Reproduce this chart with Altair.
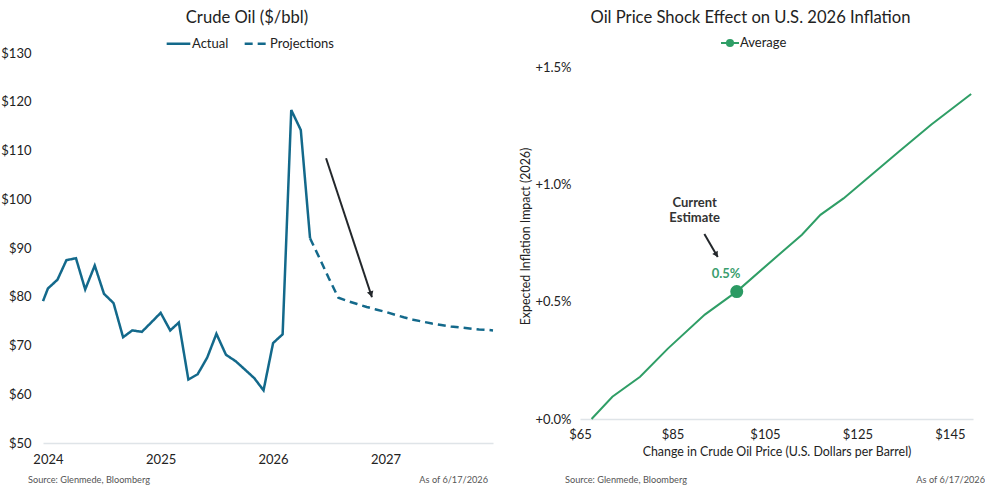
import altair as alt
import pandas as pd

# ---------------- Left panel data: crude oil ($/bbl) ----------------
actual_dates = [
    "2023-12-16", "2024-01-01", "2024-02-01", "2024-03-01", "2024-04-01", "2024-05-01",
    "2024-06-01", "2024-07-01", "2024-08-01", "2024-09-01", "2024-10-01", "2024-11-01",
    "2024-12-01", "2025-01-01", "2025-02-01", "2025-03-01", "2025-04-01", "2025-05-01",
    "2025-06-01", "2025-07-01", "2025-08-01", "2025-09-01", "2025-10-01", "2025-11-01",
    "2025-12-01", "2026-01-01", "2026-02-01", "2026-03-01", "2026-04-01", "2026-05-01",
]
actual_values = [
    79.1, 81.7, 83.5, 87.5, 87.9, 81.5,
    86.4, 80.6, 78.7, 71.7, 73.1, 72.8,
    74.7, 76.7, 73.1, 74.7, 63.0, 64.1,
    67.5, 72.4, 68.1, 66.8, 65.1, 63.3,
    60.8, 70.5, 72.3, 118.3, 114.2, 92.0,
]
proj_dates = [
    "2026-05-01", "2026-06-01", "2026-07-01", "2026-08-01", "2026-09-01", "2026-10-01",
    "2026-11-01", "2026-12-01", "2027-01-01", "2027-02-01", "2027-03-01", "2027-04-01",
    "2027-05-01", "2027-06-01", "2027-07-01", "2027-08-01", "2027-09-01", "2027-10-01",
    "2027-11-01", "2027-12-01", "2027-12-16",
]
proj_values = [
    92.0, 87.9, 83.8, 79.8, 79.1, 78.5,
    77.9, 77.4, 76.9, 76.3, 75.8, 75.3,
    74.9, 74.5, 74.2, 73.9, 73.7, 73.5,
    73.3, 73.2, 73.1,
]
series_names = ["Actual", "Projections"]
year_ticks = [2024, 2025, 2026, 2027]
price_ticks = [50, 60, 70, 80, 90, 100, 110, 120, 130]
left_arrow = {"start_date": "2026-06-22", "start_price": 108.4,
              "end_date": "2026-11-18", "end_price": 79.9,
              "head_date": "2026-11-15", "head_price": 80.5}

# ---------------- Right panel data: inflation impact ----------------
oil_prices = [67.5, 72.0, 78.0, 84.0, 92.0, 99.0, 108.0, 113.0, 117.0, 122.0, 134.0, 141.0, 149.6]
inflation_impact = [0.0, 0.095, 0.18, 0.30, 0.445, 0.545, 0.70, 0.785, 0.87, 0.94, 1.14, 1.255, 1.385]
current_price = [98.9]
current_impact = [0.543]
current_label = ["0.5%"]
note_lines = ["Current", "Estimate"]
price_axis_ticks = [65, 85, 105, 125, 145]
impact_ticks = [0.0, 0.5, 1.0, 1.5]

source_text = ["Source: Glenmede, Bloomberg"]
asof_text = ["As of 6/17/2026"]

BLUE = "#13698b"
GREEN = "#2f9e66"
DOT = "#2b9a63"
DARK = "#23272b"
TXT = "#222222"
GRID = "#dfe4e8"
FOOT = "#555555"

# ---------------- Left panel ----------------
left_df = pd.DataFrame({
    "date": pd.to_datetime(actual_dates + proj_dates),
    "price": actual_values + proj_values,
    "series": ["Actual"] * len(actual_dates) + ["Projections"] * len(proj_dates),
})

x_left = alt.X(
    "date:T",
    scale=alt.Scale(domain=[alt.DateTime(year=2023, month=12, date=16),
                            alt.DateTime(year=2027, month=12, date=16)]),
    axis=alt.Axis(values=[alt.DateTime(year=y, month=1, date=1) for y in year_ticks],
                  format="%Y", title=None, labelFontSize=13, labelColor=TXT,
                  labelPadding=10, labelFlush=False, ticks=False, grid=False,
                  domainColor=GRID, domainWidth=1.5),
)
y_left = alt.Y(
    "price:Q",
    scale=alt.Scale(domain=[50, 130], nice=False, zero=False),
    axis=alt.Axis(values=price_ticks, labelExpr="'$' + datum.value", title=None,
                  labelFontSize=13, labelColor=TXT, labelPadding=12, labelFlush=False,
                  ticks=False, grid=False, domain=False),
)

leg_left = alt.Legend(orient="none", legendX=122, legendY=-23, direction="horizontal",
                      title=None, symbolType="stroke", symbolSize=560,
                      symbolStrokeWidth=2.5, labelFontSize=13, labelColor=TXT,
                      labelOffset=0, columnPadding=10)

lines_left = alt.Chart(left_df).mark_line(strokeWidth=2.5).encode(
    x=x_left,
    y=y_left,
    color=alt.Color("series:N", scale=alt.Scale(domain=series_names, range=[BLUE, BLUE]),
                    legend=leg_left),
    strokeDash=alt.StrokeDash("series:N",
                              scale=alt.Scale(domain=series_names, range=[[1, 0], [8, 5]]),
                              legend=leg_left),
)

arrow_df = pd.DataFrame({
    "date": pd.to_datetime([left_arrow["start_date"]]),
    "price": [left_arrow["start_price"]],
    "date2": pd.to_datetime([left_arrow["end_date"]]),
    "price2": [left_arrow["end_price"]],
})
arrow_line = alt.Chart(arrow_df).mark_rule(strokeWidth=2, color=DARK).encode(
    x="date:T", y="price:Q", x2=alt.X2("date2"), y2=alt.Y2("price2"))
head_df = pd.DataFrame({"date": pd.to_datetime([left_arrow["head_date"]]),
                        "price": [left_arrow["head_price"]]})
arrow_head = alt.Chart(head_df).mark_point(shape="triangle-up", filled=True, size=45,
                                           angle=161.8, color=DARK, opacity=1).encode(
    x="date:T", y="price:Q")

src_left = alt.Chart(pd.DataFrame({"t": source_text})).mark_text(
    align="left", baseline="middle", fontSize=9.2, color=FOOT).encode(
    x=alt.value(-15), y=alt.value(427), text="t:N")
asof_left = alt.Chart(pd.DataFrame({"t": asof_text})).mark_text(
    align="right", baseline="middle", fontSize=9.2, color=FOOT).encode(
    x=alt.value(445), y=alt.value(427), text="t:N")

left = alt.layer(lines_left, arrow_line, arrow_head, src_left, asof_left).properties(
    width=450, height=390,
    title=alt.TitleParams("Crude Oil ($/bbl)", fontSize=16.6, fontWeight="normal",
                          color=TXT, anchor="middle", frame="group", dx=-21, offset=3),
)

# ---------------- Right panel ----------------
right_df = pd.DataFrame({"price": oil_prices, "impact": inflation_impact,
                         "series": ["Average"] * len(oil_prices)})

x_right = alt.X(
    "price:Q",
    scale=alt.Scale(domain=[65, 150], nice=False, zero=False),
    axis=alt.Axis(values=price_axis_ticks, labelExpr="'$' + datum.value",
                  title="Change in Crude Oil Price (U.S. Dollars per Barrel)",
                  titleFontSize=12.4, titleFontWeight="normal", titleColor=TXT,
                  labelFontSize=13, labelColor=TXT, labelPadding=9, titlePadding=4,
                  labelFlush=False, ticks=False, grid=False,
                  domainColor=GRID, domainWidth=1.5),
)
# y range runs a little above +1.5% so the panel's plot top lines up with the left panel
y_right = alt.Y(
    "impact:Q",
    scale=alt.Scale(domain=[0, 1.5597], nice=False, zero=False),
    axis=alt.Axis(values=impact_ticks,
                  labelExpr="'+' + format(datum.value, '.1f') + '%'",
                  title="Expected Inflation Impact (2026)",
                  titleFontSize=12.4, titleFontWeight="normal", titleColor=TXT,
                  labelFontSize=13, labelColor=TXT, labelPadding=9, titlePadding=2,
                  labelFlush=False, ticks=False, grid=False, domain=False),
)

avg_symbol = ("M-1,0L1,0M0.34,0A0.34,0.34,0,1,1,-0.34,0A0.34,0.34,0,1,1,0.34,0Z")
leg_right = alt.Legend(orient="none", legendX=140, legendY=-20, direction="horizontal",
                       title=None, symbolType=avg_symbol, symbolSize=324,
                       symbolStrokeWidth=2, symbolFillColor=GREEN,
                       labelFontSize=13, labelColor=TXT, labelOffset=0)

line_right = alt.Chart(right_df).mark_line(strokeWidth=2).encode(
    x=x_right, y=y_right,
    color=alt.Color("series:N", scale=alt.Scale(domain=["Average"], range=[GREEN]),
                    legend=leg_right),
)

cur_df = pd.DataFrame({"price": current_price, "impact": current_impact,
                       "label": current_label})
cur_dot = alt.Chart(cur_df).mark_circle(size=170, color=DOT, opacity=1).encode(
    x="price:Q", y="impact:Q")
cur_lbl_df = pd.DataFrame({"price": [96.6], "impact": [0.617], "label": current_label})
cur_lbl = alt.Chart(cur_lbl_df).mark_text(fontSize=13, fontWeight="bold",
                                          color="#3a9e6e").encode(
    x="price:Q", y="impact:Q", text="label:N")

note_df = pd.DataFrame({"price": [89.8, 89.8], "impact": [0.919, 0.855], "t": note_lines})
note = alt.Chart(note_df).mark_text(fontSize=13, fontWeight="bold", color="#333333").encode(
    x="price:Q", y="impact:Q", text="t:N")

arr2_df = pd.DataFrame({"price": [91.9], "impact": [0.788],
                        "price2": [94.8], "impact2": [0.690]})
arr2_line = alt.Chart(arr2_df).mark_rule(strokeWidth=2, color=DARK).encode(
    x="price:Q", y="impact:Q", x2=alt.X2("price2"), y2=alt.Y2("impact2"))
head2_df = pd.DataFrame({"price": [94.5], "impact": [0.700]})
arr2_head = alt.Chart(head2_df).mark_point(shape="triangle-up", filled=True, size=40,
                                           angle=150, color=DARK, opacity=1).encode(
    x="price:Q", y="impact:Q")

src_right = alt.Chart(pd.DataFrame({"t": source_text})).mark_text(
    align="left", baseline="middle", fontSize=9.2, color=FOOT).encode(
    x=alt.value(-15), y=alt.value(427), text="t:N")
asof_right = alt.Chart(pd.DataFrame({"t": asof_text})).mark_text(
    align="right", baseline="middle", fontSize=9.2, color=FOOT).encode(
    x=alt.value(405), y=alt.value(427), text="t:N")

right = alt.layer(line_right, cur_dot, cur_lbl, note, arr2_line, arr2_head,
                  src_right, asof_right).properties(
    width=393, height=366,
    title=alt.TitleParams("Oil Price Shock Effect on U.S. 2026 Inflation", fontSize=16.6,
                          fontWeight="normal", color=TXT, anchor="middle",
                          frame="group", dx=-26, offset=6),
)

chart = alt.hconcat(left, right, spacing=21).resolve_scale(
    color="independent", strokeDash="independent", x="independent", y="independent"
).configure(
    font="Lato",
    padding={"left": 0, "top": 10, "right": 0, "bottom": 0},
).configure_view(stroke=None)

chart.save("out.html", embed_options={"renderer": "svg", "actions": False})
